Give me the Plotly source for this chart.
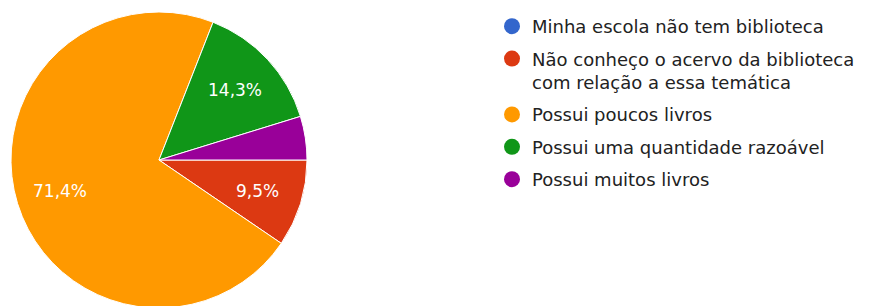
import math
import plotly.graph_objects as go

categories = [
    "Minha escola não tem biblioteca",
    "Não conheço o acervo da biblioteca<br>com relação a essa temática",
    "Possui poucos livros",
    "Possui uma quantidade razoável",
    "Possui muitos livros",
]
counts = [0, 2, 15, 3, 1]
colors = ["#3366cc", "#dc3912", "#ff9900", "#109618", "#990099"]

W, H = 871, 306
OFF = 8  # default page body margin


def xp(px):
    return (px - OFF) / W


def yp(py):
    return 1 - (py - OFF) / H


total = sum(counts)
START = 90  # degrees clockwise from 12 o'clock

# pie geometry (window pixels)
CX, CY, R = 159, 160, 148

fig = go.Figure()
fig.add_trace(go.Pie(
    labels=categories,
    values=counts,
    textinfo="none",
    sort=False,
    direction="clockwise",
    rotation=START,
    marker=dict(colors=colors, line=dict(color="white", width=1)),
    showlegend=False,
    domain=dict(x=[xp(CX - R), xp(CX + R)], y=[yp(CY + R), yp(CY - R)]),
    hoverinfo="label+percent",
))

# percentage labels placed at 0.7 r along each slice's mid-angle
acc = 0.0
for c in counts:
    frac = c / total
    mid = START + (acc + frac / 2) * 360
    acc += frac
    if frac * 100 < 7:
        continue
    a = math.radians(mid)
    lx = CX + 0.7 * R * math.sin(a)
    ly = CY - 0.7 * R * math.cos(a)
    fig.add_annotation(
        x=xp(lx), y=yp(ly), xref="paper", yref="paper",
        text=f"{frac * 100:.1f}%".replace(".", ","),
        showarrow=False, xanchor="center", yanchor="middle",
        font=dict(color="white", size=17, family="DejaVu Sans"),
    )

for i, (cat, col) in enumerate(zip(categories, colors)):
    fig.add_trace(go.Scatter(
        x=[None], y=[None], mode="markers", name=cat,
        marker=dict(color=col, size=16, symbol="circle"),
        legendgroup=f"g{i}", showlegend=True,
    ))

fig.update_layout(
    width=W, height=H,
    margin=dict(l=0, r=0, t=0, b=0),
    paper_bgcolor="white", plot_bgcolor="white",
    xaxis=dict(visible=False), yaxis=dict(visible=False),
    font=dict(family="DejaVu Sans", size=18, color="#222222"),
    legend=dict(
        x=xp(492), y=1, xanchor="left", yanchor="top",
        font=dict(size=18, color="#222222", family="DejaVu Sans"),
        tracegroupgap=6, itemsizing="trace", valign="top",
        bgcolor="rgba(0,0,0,0)",
    ),
)

fig.write_html("out.html")
